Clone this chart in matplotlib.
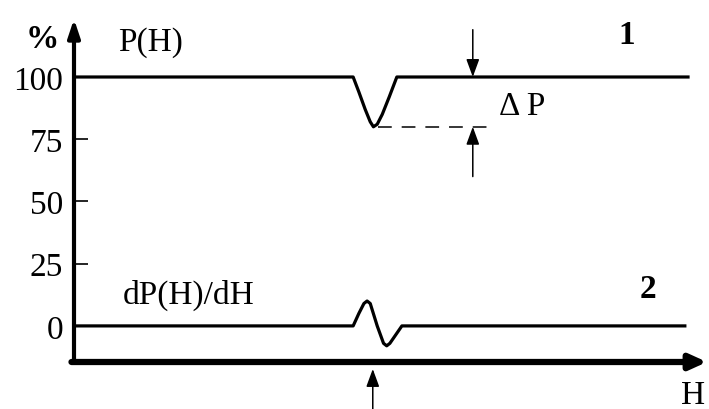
import matplotlib
matplotlib.use("Agg")
import matplotlib.pyplot as plt

# ---- data -------------------------------------------------------------
# curve 1: signal level P(H), in percent, with a dip at the defect
h_p = [0.0, 44.1, 45.0, 46.0, 46.8, 47.3, 47.9, 48.7, 49.8, 51.0, 97.0]
p_vals = [100, 100, 94, 87, 82, 80, 81, 85, 92, 100, 100]

# curve 2: derivative dP(H)/dH (same vertical scale, arbitrary units)
h_d = [0.0, 44.1, 45.0, 45.8, 46.3, 46.8, 47.9, 48.9, 49.4, 49.9, 51.8, 96.5]
d_vals = [0, 0, 5, 9, 10, 9, 0, -7, -8, -7, 0, 0]

y_ticks = [0, 25, 50, 75, 100]
y_ticklabels = ["0", "25", "50", "75", "100"]

dip_level = 80          # bottom of the dip, ΔP reference
marker_h = 63.0         # H position of the ΔP arrows
defect_h = 47.2         # H position of the defect marker
dash_span = [48.0, 66.0]

# ---- figure -----------------------------------------------------------
W, H_PX = 709, 410
fig = plt.figure(figsize=(W / 100, H_PX / 100), dpi=100)
plt.rcParams["font.family"] = ["Liberation Serif", "DejaVu Serif"]

ax = fig.add_axes([74 / W, (H_PX - 363) / H_PX, 633 / W, 343 / H_PX])
ax.set_xlim(0, 100)
ax.set_ylim(-14.5, 123.3)
for s in ax.spines.values():
    s.set_visible(False)

FS = 24
ax.set_yticks(y_ticks)
ax.set_yticklabels(y_ticklabels, fontsize=FS)
ax.tick_params(axis="y", direction="in", length=10, width=1.2, pad=8)
ax.set_xticks([])

# axes drawn as arrows
ax.annotate("", xy=(0, 1.0), xytext=(0, 0), xycoords="axes fraction",
            arrowprops=dict(arrowstyle="-|>,head_length=0.6,head_width=0.2",
                            mutation_scale=18, lw=3, color="black",
                            shrinkA=0, shrinkB=0), annotation_clip=False)
ax.annotate("", xy=(1.0, 0), xytext=(-0.004, 0), xycoords="axes fraction",
            arrowprops=dict(arrowstyle="-|>,head_length=0.55,head_width=0.25",
                            mutation_scale=18, lw=4.5, color="black",
                            shrinkA=0, shrinkB=0), annotation_clip=False)

# curves
ax.plot(h_p, p_vals, color="black", lw=2.3, solid_joinstyle="round", clip_on=False)
ax.plot(h_d, d_vals, color="black", lw=2.3, solid_joinstyle="round", clip_on=False)

# ΔP construction
ax.plot(dash_span, [dip_level, dip_level], color="black", lw=1.1,
        linestyle=(0, (9, 6.5)))
arrow_kw = dict(arrowstyle="-|>,head_length=0.6,head_width=0.22",
                mutation_scale=18, lw=1.1, color="black",
                shrinkA=0, shrinkB=0)
ax.annotate("", xy=(marker_h, 100), xytext=(marker_h, 119),
            arrowprops=arrow_kw, annotation_clip=False)
ax.annotate("", xy=(marker_h, dip_level), xytext=(marker_h, 60),
            arrowprops=arrow_kw, annotation_clip=False)
ax.annotate("", xy=(defect_h, -17.3), xytext=(defect_h, -34),
            arrowprops=arrow_kw, annotation_clip=False)

# labels
def ftext(x, y, s, **kw):
    fig.text(x / W, 1 - y / H_PX, s, fontsize=FS, ha="center", va="center", **kw)

ftext(42, 40, "%", fontweight="bold")
ftext(151, 43, "P(H)")
ftext(627, 35, "1", fontweight="bold")
ftext(522, 107, "Δ P")
ftext(189, 295, "dP(H)/dH")
ftext(648, 290, "2", fontweight="bold")
ftext(693, 396, "H")

fig.savefig("out.png", dpi=100)
